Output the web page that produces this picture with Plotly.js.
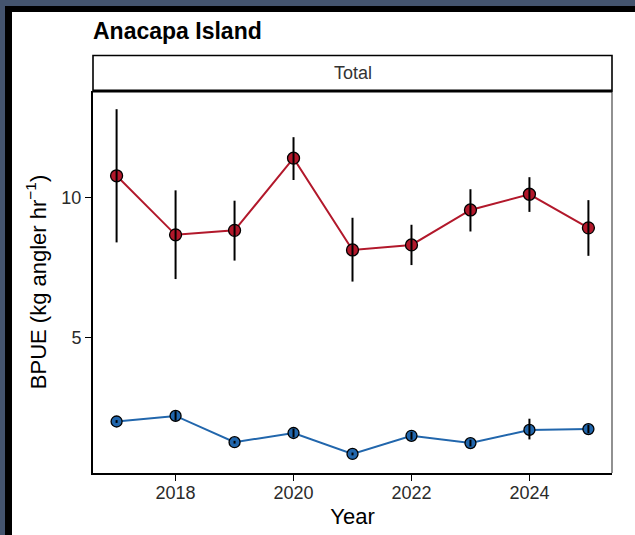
<!DOCTYPE html>
<html>
<head>
<meta charset="utf-8">
<script src="https://cdn.plot.ly/plotly-3.0.1.min.js"></script>
<style>
  html, body { margin: 0; padding: 0; background: #ffffff; }
  #wrap { position: relative; width: 635px; height: 535px; overflow: hidden; }
  #chart { position: absolute; left: 0; top: 0; width: 635px; height: 535px; }
  .fr { position: absolute; pointer-events: none; }
</style>
</head>
<body>
<div id="wrap">
  <div id="chart"></div>
  <div class="fr" style="left:0;top:0;width:635px;height:12px;background:#000;"></div>
  <div class="fr" style="left:0;top:0;width:12px;height:535px;background:#000;"></div>
  <div class="fr" style="left:0;top:0;width:635px;height:6px;background:#44546e;"></div>
  <div class="fr" style="left:0;top:0;width:5px;height:535px;background:#44546e;"></div>
</div>
<script>
// ---- data ----
const years = [2017, 2018, 2019, 2020, 2021, 2022, 2023, 2024, 2025];

const redMean = [10.78, 8.67, 8.83, 11.41, 8.13, 8.31, 9.56, 10.12, 8.92];
const redLow  = [8.40, 7.09, 7.75, 10.63, 7.00, 7.59, 8.79, 9.49, 7.92];
const redHigh = [13.16, 10.26, 9.89, 12.16, 9.28, 9.03, 10.30, 10.73, 9.91];

const blueMean = [2.00, 2.20, 1.26, 1.59, 0.84, 1.49, 1.23, 1.70, 1.73];
const blueLow  = [1.95, 2.03, 1.21, 1.44, 0.79, 1.35, 1.11, 1.36, 1.58];
const blueHigh = [2.05, 2.37, 1.31, 1.74, 0.89, 1.63, 1.35, 2.10, 1.88];

const xTicks = [2018, 2020, 2022, 2024];
const yTicks = [5, 10];

const titleText = "Anacapa Island";
const stripText = "Total";
const xTitle = "Year";
const yTitle = "BPUE (kg angler hr<sup>\u22121</sup>)";

// ---- styles ----
const RED = "#b2182b";
const BLUE = "#2166ac";
const FONT = "Liberation Sans, Arial, sans-serif";

function plus(m, h) { return h.map((v, i) => v - m[i]); }
function minus(m, l) { return l.map((v, i) => m[i] - v); }

function seriesTrace(y, color, size) {
  return {
    x: years, y: y, type: "scatter", mode: "lines+markers",
    line: { color: color, width: 2 },
    marker: { color: color, size: size, line: { color: "#000", width: 1.3 } },
    hoverinfo: "skip", showlegend: false
  };
}
function errTrace(y, lo, hi) {
  return {
    x: years, y: y, type: "scatter", mode: "markers",
    marker: { size: 1, opacity: 0 },
    error_y: { type: "data", symmetric: false, array: plus(y, hi), arrayminus: minus(y, lo),
               color: "#000", thickness: 2, width: 0 },
    hoverinfo: "skip", showlegend: false
  };
}

const data = [
  seriesTrace(blueMean, BLUE, 11),
  seriesTrace(redMean, RED, 12),
  errTrace(blueMean, blueLow, blueHigh),
  errTrace(redMean, redLow, redHigh)
];

const stripTop = 1 + 35.5 / 382.3;

const layout = {
  width: 635, height: 535,
  margin: { l: 93, r: 23, t: 91, b: 62, pad: 0 },
  paper_bgcolor: "#fff", plot_bgcolor: "#fff",
  font: { family: FONT, color: "#333" },
  hovermode: false,
  title: {
    text: titleText, xref: "container", yref: "container",
    x: 93 / 635, xanchor: "left", y: 1 - 30.5 / 535, yanchor: "middle",
    font: { family: FONT, size: 23, weight: "bold", color: "#000" }
  },
  xaxis: {
    range: [2016.6, 2025.4], tickvals: xTicks, ticktext: xTicks.map(String),
    showgrid: false, zeroline: false,
    showline: true, linecolor: "#000", linewidth: 2,
    ticks: "outside", ticklen: 6, tickwidth: 1.6, tickcolor: "#000",
    ticklabelstandoff: -4,
    tickfont: { family: FONT, size: 18, color: "#2a2a2a" },
    title: { text: xTitle, font: { family: FONT, size: 22, color: "#000" }, standoff: 7 }
  },
  yaxis: {
    range: [0.16, 13.81], tickvals: yTicks, ticktext: yTicks.map(String),
    showgrid: false, zeroline: false,
    showline: true, linecolor: "#000", linewidth: 2,
    ticks: "outside", ticklen: 6, tickwidth: 1.6, tickcolor: "#000",
    tickfont: { family: FONT, size: 18, color: "#2a2a2a" },
    title: { text: yTitle, font: { family: FONT, size: 22, color: "#000" }, standoff: 9 }
  },
  shapes: [
    { type: "line", xref: "paper", yref: "paper", x0: 1, x1: 1, y0: 0, y1: 1,
      line: { color: "#555", width: 1.3 } },
    { type: "rect", xref: "paper", yref: "paper", x0: 0, x1: 1, y0: 1, y1: stripTop,
      fillcolor: "#fff", line: { color: "#000", width: 1.6 } },
    { type: "line", xref: "paper", yref: "paper", x0: 0, x1: 1, y0: 1, y1: 1,
      line: { color: "#000", width: 3 } }
  ],
  annotations: [
    { text: stripText, xref: "paper", yref: "paper", x: 0.5, y: (1 + stripTop) / 2,
      xanchor: "center", yanchor: "middle", showarrow: false,
      font: { family: FONT, size: 18, color: "#333" } }
  ]
};

Plotly.newPlot("chart", data, layout, { displayModeBar: false, staticPlot: true });
</script>
</body>
</html>
